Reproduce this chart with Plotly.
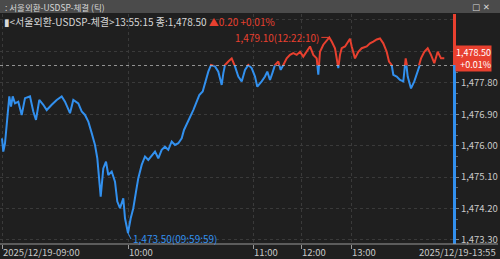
import plotly.graph_objects as go

# ---- data (tick sequence number, price) ----
tick_no = [0, 13, 30, 47, 73, 90, 107, 130, 163, 197, 230, 280, 313, 340, 373, 413, 447, 497, 547, 597,
           630, 680, 713, 763, 797, 830, 863, 897, 930, 953, 987, 1013, 1040, 1063, 1097, 1130, 1153, 1180,
           1213, 1230, 1247, 1260, 1287, 1313, 1340, 1363, 1397, 1430, 1463, 1497, 1530, 1563, 1597, 1630,
           1663, 1697, 1730, 1763, 1797, 1820, 1853, 1880, 1913, 1940, 1973, 2007, 2040, 2063, 2090, 2130,
           2163, 2197, 2213, 2230, 2263, 2297, 2330, 2363, 2397, 2430, 2463, 2497, 2530, 2553, 2597, 2630,
           2653, 2680, 2703, 2730, 2763, 2787, 2813, 2847, 2880, 2913, 2947, 2980, 3013, 3047, 3080, 3113,
           3147, 3163, 3180, 3213, 3247, 3273, 3297, 3330, 3347, 3363, 3380, 3397, 3430, 3463, 3480, 3497,
           3530, 3563, 3597, 3647, 3680, 3713, 3747, 3780, 3813, 3847, 3870, 3897, 3913, 3947, 3980, 4013,
           4037, 4057, 4090, 4123, 4157, 4190, 4223, 4257, 4290, 4323, 4357, 4390, 4423]
price = [1476.21, 1475.83, 1476.07, 1476.69, 1477.41, 1477.12, 1477.41, 1477.21, 1477.26, 1476.88,
         1477.36, 1477.41, 1476.98, 1476.74, 1477.31, 1477.17, 1477.02, 1477.17, 1477.31, 1477.41,
         1477.26, 1476.93, 1477.31, 1477.21, 1476.98, 1476.88, 1476.69, 1476.36, 1476.02, 1475.64,
         1474.54, 1475.35, 1475.54, 1475.16, 1475.26, 1474.97, 1474.40, 1474.21,
         1474.49, 1473.92, 1473.73, 1473.50, 1473.92, 1474.21, 1474.68, 1475.07, 1475.45, 1475.69,
         1475.59, 1475.73, 1475.83, 1475.64, 1475.88, 1475.97,
         1475.88, 1476.12, 1476.02, 1476.07, 1476.21, 1476.45, 1476.64, 1476.83, 1477.02, 1477.21,
         1477.45, 1477.55, 1477.88, 1478.12, 1478.31, 1478.27,
         1478.12, 1477.74, 1478.07, 1478.31, 1478.41, 1478.50, 1478.27, 1477.98, 1477.84, 1478.17,
         1478.31, 1478.22, 1477.98, 1477.69, 1477.84, 1477.98,
         1478.12, 1477.88, 1478.07, 1478.31, 1478.41, 1478.17, 1478.31, 1478.50, 1478.60, 1478.65,
         1478.60, 1478.69, 1478.55, 1478.69, 1478.84, 1478.60,
         1478.50, 1478.03, 1478.69, 1478.89, 1479.03, 1479.10, 1478.98, 1478.79, 1478.50, 1478.22,
         1478.60, 1478.79, 1478.84, 1478.98, 1479.06, 1478.84,
         1478.50, 1478.69, 1478.79, 1478.84, 1478.93, 1478.98, 1479.04, 1479.07, 1478.93, 1478.69,
         1478.41, 1478.31, 1478.03, 1477.98, 1477.88, 1477.84,
         1478.50, 1477.98, 1477.64, 1477.84, 1478.17, 1478.50, 1478.69, 1478.79, 1478.60, 1478.36,
         1478.69, 1478.50, 1478.50]

prev_close = 1478.30
last_price = 1478.50
hi_idx = price.index(max(price))
lo_idx = price.index(min(price))

time_ticks = [0, 1260, 2510, 2990, 3490]
time_labels = ["2025/12/19-09:00", "10:00", "11:00", "12:00", "13:00"]
end_label = "2025/12/19-13:55"

y_ticks = [1473.30, 1474.20, 1475.10, 1476.00, 1476.90, 1477.80]
y_labels = ["1,473.30", "1,474.20", "1,475.10", "1,476.00", "1,476.90", "1,477.80"]
y_ticks_upper = [1478.70, 1479.60]

# ---- styling ----
BG = "#1f1f1f"
GRID = "#3a3a3a"
RED = "#e8402f"
BLUE = "#3290ee"
TXT = "#c9c9c9"
FONT = "Noto Sans CJK KR, DejaVu Sans, sans-serif"

y_min, y_max = 1473.185, 1479.77
split = (prev_close - y_min) / (y_max - y_min)

fig = go.Figure()
fig.add_trace(go.Scatter(x=tick_no, y=price, mode="lines", line=dict(color=BLUE, width=2),
                         xaxis="x", yaxis="y", hoverinfo="skip"))
fig.add_trace(go.Scatter(x=tick_no, y=price, mode="lines", line=dict(color=RED, width=2),
                         xaxis="x", yaxis="y2", hoverinfo="skip"))

W, H = 500, 259
ml, mr, mt, mb = 0, 47, 14, 15
pw, ph = W - ml - mr, H - mt - mb

fig.update_layout(
    width=W, height=H,
    margin=dict(l=ml, r=mr, t=mt, b=mb, pad=0),
    paper_bgcolor=BG, plot_bgcolor=BG,
    showlegend=False,
    font=dict(family=FONT, color=TXT, size=10),
    xaxis=dict(range=[-20, 4510], tickvals=time_ticks, showticklabels=False,
               ticks="outside", ticklen=4, tickcolor="#9a9a9a",
               showgrid=True, gridcolor=GRID, griddash="dot", gridwidth=1,
               zeroline=False, showline=False, anchor="y", fixedrange=True),
    yaxis=dict(domain=[0, split], range=[y_min, prev_close], side="right",
               tickvals=y_ticks, ticktext=y_labels, ticks="outside", ticklen=3,
               tickcolor="#8a8a8a", tickfont=dict(size=9.5, color=TXT),
               minor=dict(tickvals=[1473.30 + 0.3 * k for k in range(17)], ticks="outside",
                          ticklen=2, tickcolor="#6a6a6a", showgrid=False),
               showgrid=True, gridcolor=GRID, griddash="dot", gridwidth=1,
               showline=True, linecolor=BLUE, linewidth=3, zeroline=False,
               anchor="x", fixedrange=True),
    yaxis2=dict(domain=[split, 1], range=[prev_close, y_max], side="right",
                tickvals=y_ticks_upper, showticklabels=False, ticks="",
                showgrid=True, gridcolor=GRID, griddash="dot", gridwidth=1,
                showline=True, linecolor=RED, linewidth=3, zeroline=False,
                anchor="x", fixedrange=True),
)

shapes = []
# reference (previous close) line
shapes.append(dict(type="line", xref="paper", yref="y", x0=0, x1=1, y0=prev_close, y1=prev_close,
                   line=dict(color="#d4d4d4", width=1, dash="dot"), layer="above"))
# bottom axis line across full width
shapes.append(dict(type="line", xref="paper", yref="paper", x0=0, x1=(W - 2) / pw, y0=0, y1=0,
                   line=dict(color="#9a9a9a", width=1)))
# title bar
shapes.append(dict(type="rect", xref="paper", yref="paper", x0=0, x1=W / pw,
                   y0=1 + 1 / ph, y1=1 + mt / ph, fillcolor="#4b4b4b", line=dict(width=0)))
fig.update_layout(shapes=shapes)

ann = []
# x tick labels
for tv, tl in zip(time_ticks, time_labels):
    ann.append(dict(x=tv, xref="x", y=0, yref="paper", text=tl, showarrow=False,
                    xanchor="left", yanchor="top", xshift=-1, yshift=1,
                    font=dict(size=9.5, color=TXT, family=FONT)))
ann.append(dict(x=(W - 2) / pw, xref="paper", y=0, yref="paper", text=end_label, showarrow=False,
                xanchor="right", yanchor="top", yshift=1, font=dict(size=9.5, color=TXT, family=FONT)))
# high / low annotations
ann.append(dict(x=tick_no[hi_idx], y=price[hi_idx], xref="x", yref="y2",
                text="1,479.10(12:22:10)", showarrow=True, arrowhead=0, arrowwidth=1,
                arrowcolor=RED, ax=-8, ay=0, xanchor="right", yanchor="middle",
                font=dict(size=10, color=RED, family=FONT)))
ann.append(dict(x=tick_no[lo_idx], y=price[lo_idx], xref="x", yref="y",
                text="1,473.50(09:59:59)", showarrow=True, arrowhead=0, arrowwidth=1,
                arrowcolor=BLUE, ax=3, ay=6, xanchor="left", yanchor="middle",
                font=dict(size=10, color=BLUE, family=FONT)))
# last price box
ann.append(dict(x=1, xref="paper", y=last_price, yref="y2", xshift=2,
                text="1,478.50<br>+0.01%", showarrow=False, xanchor="left", yanchor="middle",
                bgcolor=RED, borderpad=0, align="right",
                font=dict(size=9, color="#ffffff", family=FONT)))
# header lines
ann.append(dict(x=3 / pw, xref="paper", y=1 + (mt - 7) / ph, yref="paper",
                text=": 서울외환-USDSP-체결 (틱)", showarrow=False, xanchor="left", yanchor="middle",
                font=dict(size=8.5, color="#d8d8d8", family=FONT)))
ann.append(dict(x=(W - 8) / pw, xref="paper", y=1 + (mt - 7) / ph, yref="paper",
                text="□ ✕", showarrow=False, xanchor="right", yanchor="middle",
                font=dict(size=8.5, color="#d8d8d8", family="DejaVu Sans")))
ann.append(dict(x=2 / pw, xref="paper", y=1 - 7.5 / ph, yref="paper",
                text="▮<서울외환-USDSP-체결>13:55:15 종:1,478.50 "
                     f"<span style='color:{RED}'>▲0.20 +0.01%</span>",
                showarrow=False, xanchor="left", yanchor="middle",
                font=dict(size=10, color="#d8d8d8", family=FONT)))
fig.update_layout(annotations=ann)

fig.write_html("out.html")
